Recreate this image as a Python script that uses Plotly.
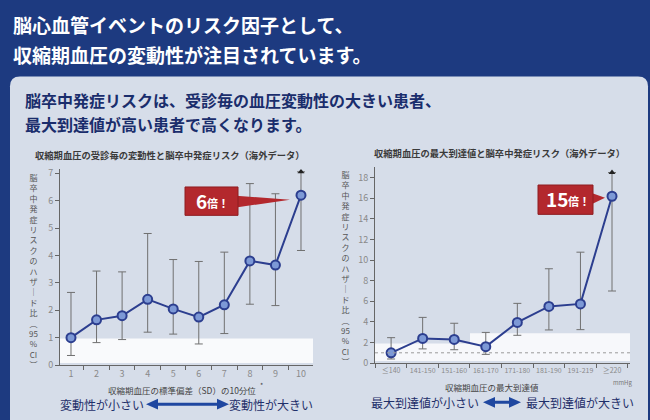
import plotly.graph_objects as go

# ---------------- data ----------------
sd_deciles = ["1", "2", "3", "4", "5", "6", "7", "8", "9", "10"]
sd_hr = [1.0, 1.65, 1.8, 2.4, 2.05, 1.75, 2.2, 3.8, 3.65, 6.2]
sd_ci_low = [0.35, 0.82, 0.93, 1.2, 1.13, 0.77, 1.15, 2.22, 2.17, 4.18]
sd_ci_high = [2.65, 3.43, 3.4, 4.8, 3.85, 3.78, 4.12, 6.62, 6.25, 7.05]

max_cats = ["≤140", "141-150", "151-160", "161-170", "171-180", "181-190", "191-219", "≥220"]
max_hr = [1.0, 2.4, 2.3, 1.6, 3.95, 5.5, 5.75, 16.2]
max_ci_low = [0.4, 1.38, 1.3, 0.85, 2.7, 3.22, 3.25, 7.0]
max_ci_high = [2.47, 4.44, 3.87, 2.98, 5.8, 9.16, 10.77, 18.5]

left_y_ticks = [0, 1, 2, 3, 4, 5, 6, 7]
right_y_ticks = [0, 2, 4, 6, 8, 10, 12, 14, 16, 18]

W, H = 650, 420
FONT = "Noto Sans CJK JP"
NAVY = "#1d3a80"
PANEL = "#d6dde9"
LINE = "#2c3e8f"
MARK = "#7d99d6"


def px(x):
    return x / W


def py(y):
    return 1 - y / H


fig = go.Figure()

xs1 = list(range(1, len(sd_deciles) + 1))
xs2 = list(range(1, len(max_cats) + 1))

fig.add_trace(go.Scatter(
    x=xs1, y=sd_hr, mode="lines+markers",
    line=dict(color=LINE, width=2),
    marker=dict(size=9, color=MARK, line=dict(color=LINE, width=2)),
    error_y=dict(type="data", symmetric=False,
                 array=[h - v for h, v in zip(sd_ci_high, sd_hr)],
                 arrayminus=[v - l for v, l in zip(sd_hr, sd_ci_low)],
                 color="#707070", thickness=1, width=4),
    xaxis="x", yaxis="y", showlegend=False, hoverinfo="skip"))
fig.add_trace(go.Scatter(
    x=[xs1[-1]], y=[sd_ci_high[-1]], mode="markers",
    marker=dict(symbol="triangle-up", size=6, color="#222"),
    xaxis="x", yaxis="y", showlegend=False, hoverinfo="skip"))

fig.add_trace(go.Scatter(
    x=xs2, y=max_hr, mode="lines+markers",
    line=dict(color=LINE, width=2),
    marker=dict(size=9, color=MARK, line=dict(color=LINE, width=2)),
    error_y=dict(type="data", symmetric=False,
                 array=[h - v for h, v in zip(max_ci_high, max_hr)],
                 arrayminus=[v - l for v, l in zip(max_hr, max_ci_low)],
                 color="#707070", thickness=1, width=4),
    xaxis="x2", yaxis="y2", showlegend=False, hoverinfo="skip"))
fig.add_trace(go.Scatter(
    x=[xs2[-1]], y=[max_ci_high[-1]], mode="markers",
    marker=dict(symbol="triangle-up", size=6, color="#222"),
    xaxis="x2", yaxis="y2", showlegend=False, hoverinfo="skip"))

axis_common = dict(showgrid=False, zeroline=False, showline=True,
                   linecolor="#666", linewidth=1, fixedrange=True)
tickfont = dict(family=FONT, size=9, color="#8a8a8a")

fig.update_layout(
    width=W, height=H, autosize=False,
    margin=dict(l=0, r=0, t=0, b=0),
    paper_bgcolor=NAVY, plot_bgcolor="rgba(0,0,0,0)",
    font=dict(family=FONT),
    xaxis=dict(domain=[px(60), px(313)], range=[0.57, 10.47], anchor="y",
               tickvals=xs1, ticktext=sd_deciles, ticks="",
               minor=dict(ticks="outside", tick0=0.5, dtick=1, ticklen=4, tickcolor="#666"),
               tickfont=tickfont, **axis_common),
    yaxis=dict(domain=[py(370), py(170)], range=[0, 7.14], anchor="x",
               tickvals=left_y_ticks, ticks="outside", ticklen=4, tickcolor="#666",
               tickfont=tickfont, **axis_common),
    xaxis2=dict(domain=[px(375), px(630)], range=[0.49, 8.57], anchor="y2",
                tickvals=xs2, ticktext=max_cats, ticks="",
                minor=dict(ticks="outside", tick0=0.5, dtick=1, ticklen=4, tickcolor="#666"),
                tickfont=dict(family=FONT, size=7, color="#8a8a8a"), **axis_common),
    yaxis2=dict(domain=[py(368), py(168)], range=[0, 19.0], anchor="x2",
                tickvals=right_y_ticks, ticks="outside", ticklen=4, tickcolor="#666",
                tickfont=tickfont, **axis_common),
)

shapes = []
# light panel with rounded top corners
shapes.append(dict(type="path", xref="paper", yref="paper", layer="below",
                   path=(f"M {px(10)},{py(430)} L {px(10)},{py(85)} Q {px(10)},{py(75)} {px(20)},{py(75)} "
                         f"L {px(638)},{py(75)} Q {px(648)},{py(75)} {px(648)},{py(85)} L {px(648)},{py(430)} Z"),
                   fillcolor=PANEL, line=dict(width=0)))
# scan white smears near the bottom of the plots
shapes.append(dict(type="rect", xref="x", yref="y", layer="below",
                   x0=0.57, x1=10.47, y0=0.08, y1=0.97,
                   fillcolor="white", opacity=0.85, line=dict(width=0)))
shapes.append(dict(type="rect", xref="x2", yref="y2", layer="below",
                   x0=0.49, x1=3.5, y0=0.2, y1=1.9,
                   fillcolor="white", opacity=0.8, line=dict(width=0)))
shapes.append(dict(type="rect", xref="x2", yref="y2", layer="below",
                   x0=3.5, x1=8.57, y0=0.2, y1=2.9,
                   fillcolor="white", opacity=0.8, line=dict(width=0)))
# reference line at HR = 1
shapes.append(dict(type="line", xref="x2", yref="y2", x0=0.49, x1=8.57, y0=1, y1=1,
                   line=dict(color="#9a9a9a", width=1, dash="dot")))
# callouts
RED = "#b3282d"
shapes.append(dict(type="path", xref="paper", yref="paper",
                   path=f"M {px(236)},{py(197)} L {px(290)},{py(201)} L {px(236)},{py(209)} Z",
                   fillcolor=RED, line=dict(width=0)))
shapes.append(dict(type="rect", xref="paper", yref="paper",
                   x0=px(185), x1=px(238), y0=py(217), y1=py(188),
                   fillcolor=RED, line=dict(color="#8e1c20", width=1)))
shapes.append(dict(type="path", xref="paper", yref="paper",
                   path=f"M {px(591)},{py(194)} L {px(605)},{py(199)} L {px(591)},{py(206)} Z",
                   fillcolor=RED, line=dict(width=0)))
shapes.append(dict(type="rect", xref="paper", yref="paper",
                   x0=px(538), x1=px(593), y0=py(216), y1=py(186),
                   fillcolor=RED, line=dict(color="#8e1c20", width=1)))
# double arrows (bottom)
ARW = "#1f47a0"
for (x0, x1, yy) in [(146, 229, 410), (483, 521, 408)]:
    hl, hh = 12, 5.5
    shapes.append(dict(type="path", xref="paper", yref="paper",
                       path=(f"M {px(x0)},{py(yy)} L {px(x0 + hl)},{py(yy - hh)} L {px(x0 + hl)},{py(yy - 1.5)} "
                             f"L {px(x1 - hl)},{py(yy - 1.5)} L {px(x1 - hl)},{py(yy - hh)} L {px(x1)},{py(yy)} "
                             f"L {px(x1 - hl)},{py(yy + hh)} L {px(x1 - hl)},{py(yy + 1.5)} "
                             f"L {px(x0 + hl)},{py(yy + 1.5)} L {px(x0 + hl)},{py(yy + hh)} Z"),
                       fillcolor=ARW, line=dict(width=0)))
fig.update_layout(shapes=shapes)

ann = []


def text(x, y, s, size, color, bold=False, xanchor="left"):
    ann.append(dict(x=px(x), y=py(y), xref="paper", yref="paper", text=(f"<b>{s}</b>" if bold else s),
                    showarrow=False, xanchor=xanchor, yanchor="middle",
                    font=dict(family=FONT, size=size, color=color)))


# header
text(11, 22, "脳心血管イベントのリスク因子として、", 19, "white", True)
text(11, 53, "収縮期血圧の変動性が注目されています。", 19, "white", True)
# panel heading
text(23, 99, "脳卒中発症リスクは、受診毎の血圧変動性の大きい患者、", 16, "#1a2d6c", True)
text(23, 124, "最大到達値が高い患者で高くなります。", 16, "#1a2d6c", True)
# chart titles
text(170, 155, "収縮期血圧の受診毎の変動性と脳卒中発症リスク（海外データ）", 9.3, "#3a3a3a", True, "center")
text(499, 153, "収縮期血圧の最大到達値と脳卒中発症リスク（海外データ）", 9.3, "#3a3a3a", True, "center")
# vertical y titles
vchars = ["脳", "卒", "中", "発", "症", "リ", "ス", "ク", "の", "ハ", "ザ", "｜", "ド", "比", "︵", "95", "%", "CI", "︶"]
vt = "<br>".join(vchars)
for xx, yy in [(33, 274), (345, 271)]:
    ann.append(dict(x=px(xx), y=py(yy), xref="paper", yref="paper", text=vt, showarrow=False,
                    xanchor="center", yanchor="middle", align="center",
                    font=dict(family=FONT, size=8, color="#555")))
# x titles
text(182, 395, "収縮期血圧の標準偏差（SD）の10分位", 8.5, "#444", False, "center")
text(258, 390, "*", 7, "#444", False, "left")
text(492, 392, "収縮期血圧の最大到達値", 8.5, "#444", False, "center")
text(622, 388, "mmHg", 6, "#777", False, "center")
# callout labels
text(209, 202, "6", 19, "white", True, "right")
text(205, 204, "倍！", 11, "white", True, "left")
text(570, 200, "15", 19, "white", True, "right")
text(566, 202, "倍！", 11, "white", True, "left")
# bottom direction labels
BL = "#1f2f6a"
text(102, 410, "変動性が小さい", 12, BL, False, "center")
text(271, 410, "変動性が大きい", 12, BL, False, "center")
text(425, 408, "最大到達値が小さい", 12, BL, False, "center")
text(580, 408, "最大到達値が大きい", 12, BL, False, "center")
fig.update_layout(annotations=ann)

fig.write_html("out.html")
